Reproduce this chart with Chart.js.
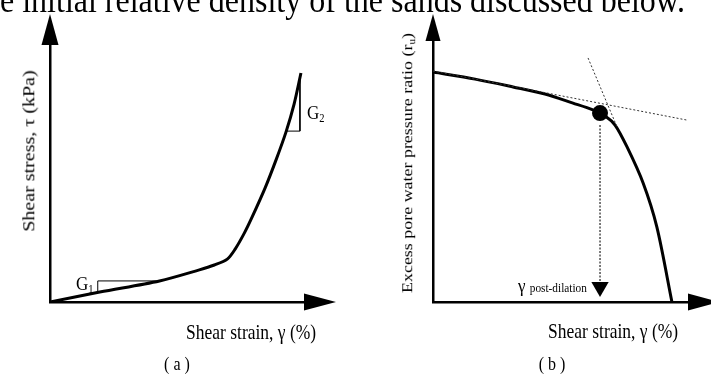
<!DOCTYPE html>
<html>
<head>
<meta charset="utf-8">
<script src="https://cdn.jsdelivr.net/npm/chart.js@4.4.1/dist/chart.umd.min.js"></script>
<style>
  html, body { margin: 0; padding: 0; background: #fff; }
  body { width: 711px; height: 374px; position: relative; overflow: hidden;
         font-family: "Liberation Serif", "Times New Roman", serif; color: #000; }
  .panel { position: absolute; top: 0; height: 374px; }
  #wrapA { left: 0; width: 360px; }
  #wrapB { left: 360px; width: 351px; }
  .lbl { position: absolute; white-space: nowrap; line-height: 1; }
  .lbl sub { font-size: 0.62em; vertical-align: -0.28em; line-height: 0; }
</style>
</head>
<body>
<div class="panel" id="wrapA"><canvas id="chartA" width="360" height="374"></canvas></div>
<div class="panel" id="wrapB"><canvas id="chartB" width="351" height="374"></canvas></div>

<script>
// ---- Panel (a): shear stress vs shear strain (schematic units 0–10) ----
const strainA = [0, 1.96, 4.31, 5.88, 6.47, 6.98, 7.29, 7.65, 7.96, 8.47, 8.90, 9.29, 9.61, 9.88];
const stressA = [0, 0.39, 0.82, 1.25, 1.44, 1.67, 2.06, 2.68, 3.31, 4.44, 5.53, 6.61, 7.70, 8.91];
// slope triangles G1 and G2
const g1Strain = [1.88, 1.88, 4.31];
const g1Stress = [0.37, 0.82, 0.82];
const g2Strain = [9.84, 9.84, 9.29];
const g2Stress = [8.68, 6.65, 6.65];

// ---- Panel (b): excess pore water pressure ratio vs shear strain ----
const strainB = [0, 1.65, 3.14, 4.39, 5.49, 6.27, 6.75, 7.14, 7.61, 8.24, 8.78, 9.37];
const ruB     = [8.81, 8.54, 8.24, 7.97, 7.62, 7.36, 7.13, 6.78, 5.94, 4.56, 2.87, 0];
// dotted tangents that meet at the dilation point
const tangent1Strain = [0, 9.96];
const tangent1Ru     = [8.85, 6.97];
const tangent2Strain = [6.08, 7.22];
const tangent2Ru     = [9.35, 6.70];
// onset of dilation and the strain it marks on the x axis
const dilationStrain = [6.55];
const dilationRu     = [7.24];
const guideRu        = [6.78, 0.57];

const xy = (xs, ys) => xs.map((x, i) => ({ x, y: ys[i] }));

// arrowheads at the ends of both axes
const axisArrows = {
  id: 'axisArrows',
  afterDraw(chart, args, o) {
    const { ctx, chartArea: a } = chart;
    ctx.save();
    ctx.fillStyle = '#000';
    ctx.beginPath();
    ctx.moveTo(a.left, a.top - o.lenY);
    ctx.lineTo(a.left - o.halfY, a.top);
    ctx.lineTo(a.left + o.halfY, a.top);
    ctx.closePath();
    ctx.fill();
    ctx.beginPath();
    ctx.moveTo(a.right + o.lenX, a.bottom);
    ctx.lineTo(a.right, a.bottom - o.halfX);
    ctx.lineTo(a.right, a.bottom + o.halfX);
    ctx.closePath();
    ctx.fill();
    ctx.restore();
  }
};

function axis(min, max) {
  return {
    type: 'linear', min, max,
    grid: { display: false, drawTicks: false },
    ticks: { display: false },
    border: { display: true, color: '#000', width: 2.5 },
    title: { display: false }
  };
}

function baseOptions(padding, arrows) {
  return {
    responsive: false,
    animation: false,
    events: [],
    layout: { padding },
    plugins: { legend: { display: false }, tooltip: { enabled: false }, axisArrows: arrows },
    scales: { x: axis(0, 10), y: axis(0, 10) }
  };
}

const curveStyle = {
  showLine: true, borderColor: '#000', borderWidth: 3, pointRadius: 0,
  tension: 0.3, fill: false
};
const thinStyle = { showLine: true, borderColor: '#000', borderWidth: 1, pointRadius: 0, tension: 0 };
const dotStyle = { showLine: true, borderColor: '#333', borderWidth: 1, borderDash: [2, 2], pointRadius: 0, tension: 0 };

new Chart(document.getElementById('chartA'), {
  type: 'scatter',
  data: {
    datasets: [
      { ...thinStyle, data: xy(g1Strain, g1Stress) },
      { ...thinStyle, data: xy(g2Strain, g2Stress) },
      { ...curveStyle, data: xy(strainA, stressA) }
    ]
  },
  options: baseOptions({ left: 50, right: 56, top: 45, bottom: 72 },
                       { lenY: 31, halfY: 8.5, lenX: 32, halfX: 8.5 }),
  plugins: [axisArrows]
});

new Chart(document.getElementById('chartB'), {
  type: 'scatter',
  data: {
    datasets: [
      { ...dotStyle, data: xy(tangent1Strain, tangent1Ru) },
      { ...dotStyle, data: xy(tangent2Strain, tangent2Ru) },
      { ...dotStyle, borderColor: '#333', borderWidth: 1.3, borderDash: [2, 1.5],
        data: xy([dilationStrain[0], dilationStrain[0]], guideRu),
        pointRadius: [0, 10], pointStyle: 'triangle', rotation: 180,
        pointBackgroundColor: '#000', pointBorderColor: '#000', pointBorderWidth: 0 },
      { ...curveStyle, data: xy(strainB, ruB) },
      { data: xy(dilationStrain, dilationRu), pointRadius: 8, pointBackgroundColor: '#000',
        pointBorderColor: '#000', pointBorderWidth: 0, showLine: false }
    ]
  },
  options: baseOptions({ left: 73, right: 23, top: 41, bottom: 72 },
                       { lenY: 27, halfY: 7.5, lenX: 31, halfX: 8.5 }),
  plugins: [axisArrows]
});

// text labels: [html, x, y, size, mode]  mode: 'left' | 'center' | 'rot'
const STRETCH = 1.15;
const labels = [
  ['e initial relative density of the sands discussed below.', 0, -1.4, 32, 'left'],
  ['Shear stress, &tau; (kPa)', 28.5, 151, 17.4, 'rot'],
  ['Shear strain, &gamma; (%)', 186, 333, 17.5, 'left'],
  ['( a )', 177, 364, 16, 'center'],
  ['G<sub>1</sub>', 76, 283, 17, 'left'],
  ['G<sub>2</sub>', 307, 112.5, 17, 'left'],
  ['Excess pore water pressure ratio (r<sub>u</sub>)', 407, 163, 15.6, 'rot'],
  ['&gamma; <span style="font-size:11.3px">post-dilation</span>', 518, 285.5, 17, 'left'],
  ['Shear strain, &gamma; (%)', 548, 332, 17.5, 'left'],
  ['( b )', 552, 364, 16, 'center']
];
for (const [html, x, y, size, mode] of labels) {
  const d = document.createElement('div');
  d.className = 'lbl';
  d.innerHTML = html;
  d.style.fontSize = size + 'px';
  d.style.left = x + 'px';
  if (mode === 'left') {
    d.style.top = (y - size / 2) + 'px';
    d.style.transformOrigin = 'left center';
    d.style.transform = `scaleY(${STRETCH})`;
  } else if (mode === 'center') {
    d.style.top = y + 'px';
    d.style.transform = `translate(-50%, -50%) scaleY(${STRETCH})`;
  } else {
    d.style.top = y + 'px';
    d.style.transform = `translate(-50%, -50%) rotate(-90deg) scaleX(${STRETCH})`;
  }
  document.body.appendChild(d);
}
</script>
</body>
</html>
